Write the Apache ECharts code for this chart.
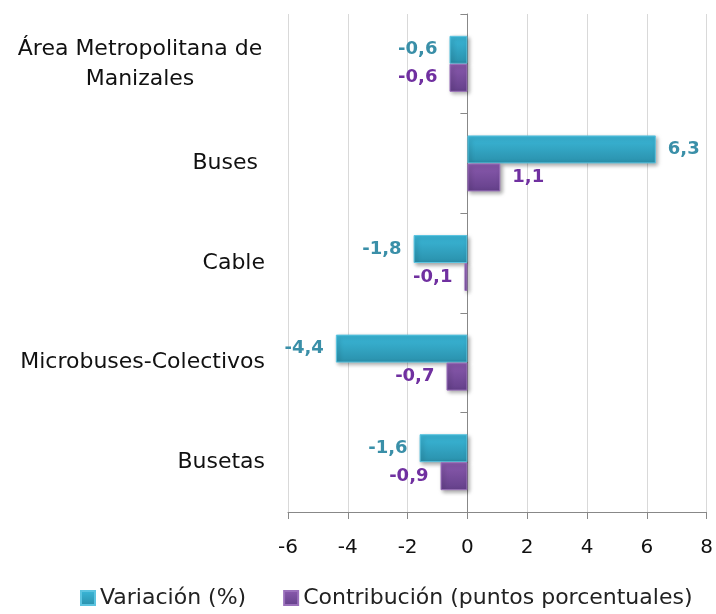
<!DOCTYPE html>
<html>
<head>
<meta charset="utf-8">
<script src="https://cdn.jsdelivr.net/npm/echarts@6/dist/echarts.min.js"></script>
<style>
html, body { margin: 0; padding: 0; background: #fff; }
#main { width: 716px; height: 614px; }
</style>
</head>
<body>
<div id="main"></div>
<script>
// categorias y valores
var categorias = ['Área Metropolitana de Manizales', 'Buses ', 'Cable', 'Microbuses-Colectivos', 'Busetas'];
var variacion = [-0.6, 6.3, -1.8, -4.4, -1.6];
var contribucion = [-0.6, 1.1, -0.1, -0.7, -0.9];

var chart = echarts.init(document.getElementById('main'));

function fmt(v) {
    return String(v).replace('.', ',');
}

function barData(arr) {
    return arr.map(function (v) {
        return {
            value: v,
            label: { position: v < 0 ? 'left' : 'right' }
        };
    });
}

var fontFam = '"DejaVu Sans", sans-serif';

option = {
    animation: false,
    textStyle: { fontFamily: fontFam },
    legend: {
        bottom: 0,
        left: 75,
        itemWidth: 14,
        itemHeight: 14,
        itemGap: 37,
        icon: 'rect',
        textStyle: { fontSize: 22, color: '#222', fontFamily: fontFam },
        data: ['Variación (%)', 'Contribución (puntos porcentuales)']
    },
    grid: {
        left: 288,
        right: 7,
        top: 14,
        bottom: 102
    },
    xAxis: {
        type: 'value',
        min: -6,
        max: 8,
        interval: 2,
        axisLabel: {
            color: '#111',
            fontSize: 20,
            margin: 26
        },
        axisLine: { show: true, onZero: false, lineStyle: { color: '#888', width: 1 } },
        axisTick: { show: true, length: 7, lineStyle: { color: '#888' } },
        splitLine: { lineStyle: { color: '#d9d9d9' } }
    },
    yAxis: [{
        type: 'category',
        data: categorias,
        inverse: true,
        axisLine: { show: false, onZero: false },
        axisTick: { show: false },
        axisLabel: {
            color: '#111',
            fontSize: 22,
            margin: 23,
            formatter: function (v) {
                if (v.indexOf('Área') === 0) {
                    return '{c|Área Metropolitana de}\n{c|Manizales}';
                }
                return v;
            },
            rich: {
                c: { width: 250, align: 'center', fontSize: 22, color: '#111', lineHeight: 30 }
            }
        }
    }, {
        type: 'category',
        data: categorias,
        inverse: true,
        position: 'left',
        axisLine: { show: true, onZero: true, lineStyle: { color: '#888' } },
        axisTick: { show: true, length: 7, lineStyle: { color: '#888' } },
        axisLabel: { show: false }
    }],
    series: [{
        name: 'Variación (%)',
        type: 'bar',
        data: barData(variacion),
        barWidth: 28,
        barGap: '0%',
        itemStyle: {
            color: new echarts.graphic.LinearGradient(0, 0, 0, 1, [
                { offset: 0, color: '#3bb8d9' },
                { offset: 1, color: '#2a90ab' }
            ]),
            borderColor: '#5cc4e0',
            borderWidth: 1,
            shadowBlur: 4,
            shadowOffsetX: 2,
            shadowOffsetY: 2,
            shadowColor: 'rgba(0,0,0,0.35)'
        },
        label: {
            show: true,
            color: '#3a8fa8',
            fontWeight: 'bold',
            fontSize: 18,
            distance: 12,
            formatter: function (p) { return fmt(p.value); }
        }
    }, {
        name: 'Contribución (puntos porcentuales)',
        type: 'bar',
        data: barData(contribucion),
        barWidth: 28,
        barGap: '0%',
        itemStyle: {
            color: new echarts.graphic.LinearGradient(0, 0, 0, 1, [
                { offset: 0, color: '#8a5aae' },
                { offset: 1, color: '#64408a' }
            ]),
            borderColor: '#9a70bb',
            borderWidth: 1,
            shadowBlur: 4,
            shadowOffsetX: 2,
            shadowOffsetY: 2,
            shadowColor: 'rgba(0,0,0,0.35)'
        },
        label: {
            show: true,
            color: '#7030a0',
            fontWeight: 'bold',
            fontSize: 18,
            distance: 12,
            formatter: function (p) { return fmt(p.value); }
        }
    }]
};

chart.setOption(option);
</script>
</body>
</html>
